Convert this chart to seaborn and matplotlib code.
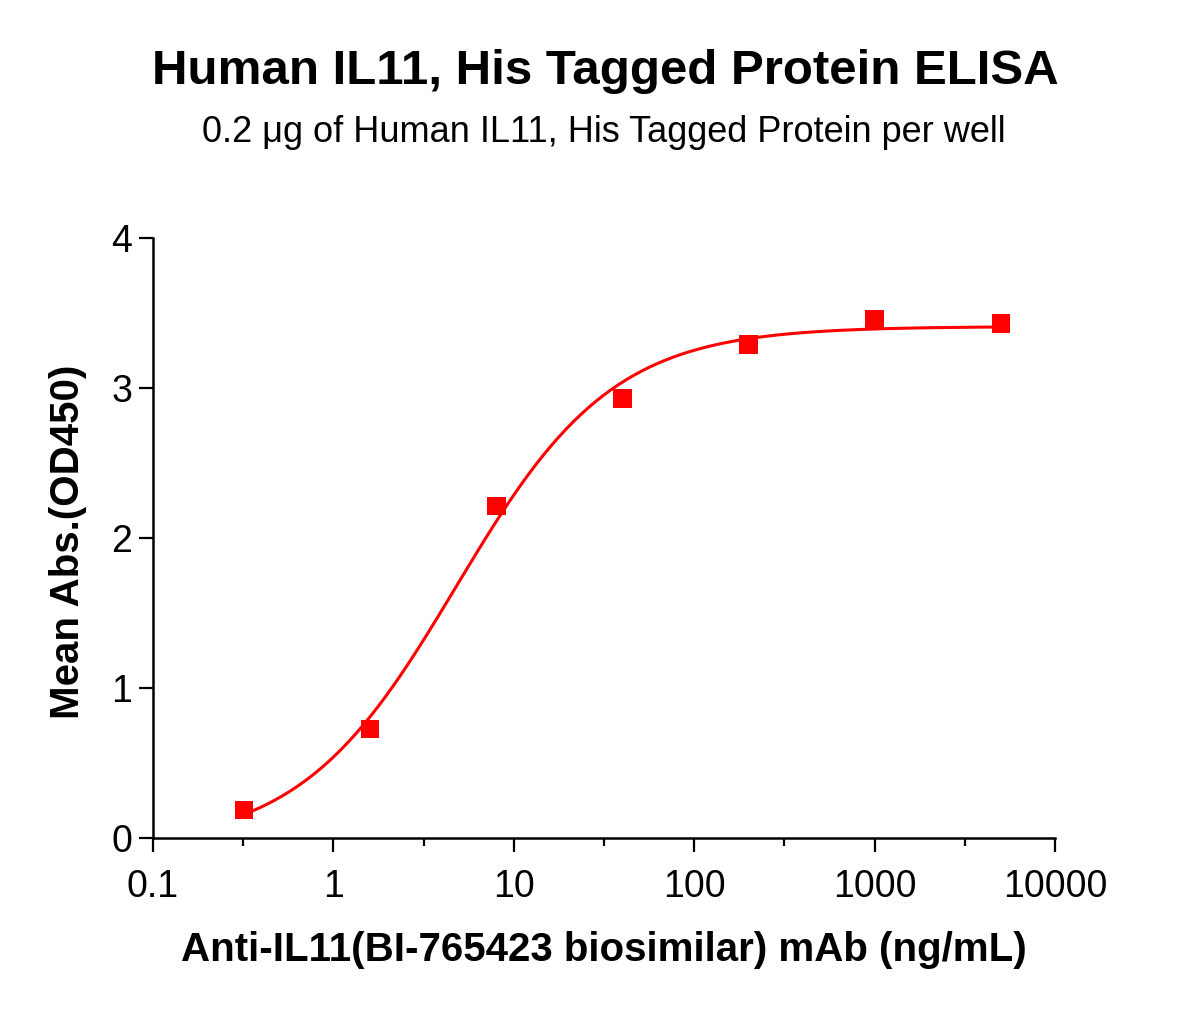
import numpy as np
import pandas as pd
import seaborn as sns
import matplotlib
matplotlib.use("Agg")
import matplotlib.pyplot as plt
from matplotlib.ticker import FixedLocator, FixedFormatter, NullFormatter

# ELISA readings
conc = [0.32, 1.6, 8, 40, 200, 1000, 5000]
od450 = [0.187, 0.727, 2.213, 2.93, 3.29, 3.46, 3.43]

x_ticks = [0.1, 1, 10, 100, 1000, 10000]
x_tick_labels = ["0.1", "1", "10", "100", "1000", "10000"]
y_ticks = [0, 1, 2, 3, 4]

df = pd.DataFrame({"conc": conc, "od": od450})


# 4PL fit by coarse grid search (no scipy here)
def four_pl(x, bottom, top, logec, hill):
    return bottom + (top - bottom) / (1 + 10 ** ((logec - np.log10(x)) * hill))


lx = np.log10(np.array(conc))[:, None]
yy = np.array(od450)[:, None]
B, T, L, H = np.meshgrid(np.linspace(-0.4, 0.3, 36), np.linspace(3.3, 3.6, 31),
                         np.linspace(0.3, 1.0, 36), np.linspace(0.6, 1.5, 37), indexing="ij")
B, T, L, H = [a.ravel()[None, :] for a in (B, T, L, H)]
pred = B + (T - B) / (1 + 10 ** ((L - lx) * H))
best = np.argmin(((pred - yy) ** 2).sum(axis=0))
params = (B[0, best], T[0, best], L[0, best], H[0, best])

xs = np.logspace(np.log10(0.32), np.log10(5000), 300)
fit = pd.DataFrame({"conc": xs, "od": four_pl(xs, *params)})

sns.set_style("ticks")
plt.rcParams["font.family"] = ["Liberation Sans", "DejaVu Sans"]
plt.rcParams["text.color"] = "black"
plt.rcParams["axes.labelcolor"] = "black"
plt.rcParams["xtick.color"] = "black"
plt.rcParams["ytick.color"] = "black"

fig = plt.figure(figsize=(11.79, 10.18), dpi=100)
ax = fig.add_axes([153 / 1179, 1 - 838 / 1018, (1055 - 153) / 1179, (838 - 238) / 1018])

sns.lineplot(data=fit, x="conc", y="od", color="#ff0000", linewidth=2.2, ax=ax)
sns.scatterplot(data=df, x="conc", y="od", marker="s", s=175, color="#ff0000",
                edgecolor="none", ax=ax, zorder=3, clip_on=False)

ax.set_xscale("log")
ax.set_xlim(0.1, 10000)
ax.set_ylim(0, 4)
ax.xaxis.set_major_locator(FixedLocator(x_ticks))
ax.xaxis.set_major_formatter(FixedFormatter(x_tick_labels))
ax.xaxis.set_minor_locator(FixedLocator([t * np.sqrt(10) for t in x_ticks[:-1]]))
ax.xaxis.set_minor_formatter(NullFormatter())
ax.set_yticks(y_ticks)

for s in ["top", "right"]:
    ax.spines[s].set_visible(False)
for s in ["left", "bottom"]:
    ax.spines[s].set_linewidth(1.8)
    ax.spines[s].set_color("black")
ax.tick_params(which="major", length=10, width=1.6, labelsize=27)
ax.tick_params(which="minor", length=6, width=1.6)
ax.tick_params(axis="x", which="major", pad=12)
ax.tick_params(axis="y", which="major", pad=5)

ax.set_xlabel("Anti-IL11(BI-765423 biosimilar) mAb (ng/mL)", fontsize=29,
              fontweight="bold")
ax.set_ylabel("Mean Abs.(OD450)", fontsize=29, fontweight="bold")
ax.xaxis.label.set_va("center")
ax.yaxis.label.set_va("center")
ax.xaxis.set_label_coords(0.5, (838 - 950) / 600)
ax.yaxis.set_label_coords((68 - 153) / 902, 0.493)

fig.text(605 / 1179, 1 - 71 / 1018, "Human IL11, His Tagged Protein ELISA", ha="center",
         va="center", fontsize=35.5, fontweight="bold")
fig.text(604 / 1179, 1 - 132 / 1018, "0.2 μg of Human IL11, His Tagged Protein per well",
         ha="center", va="center", fontsize=26)

fig.savefig("out.png", dpi=100)
